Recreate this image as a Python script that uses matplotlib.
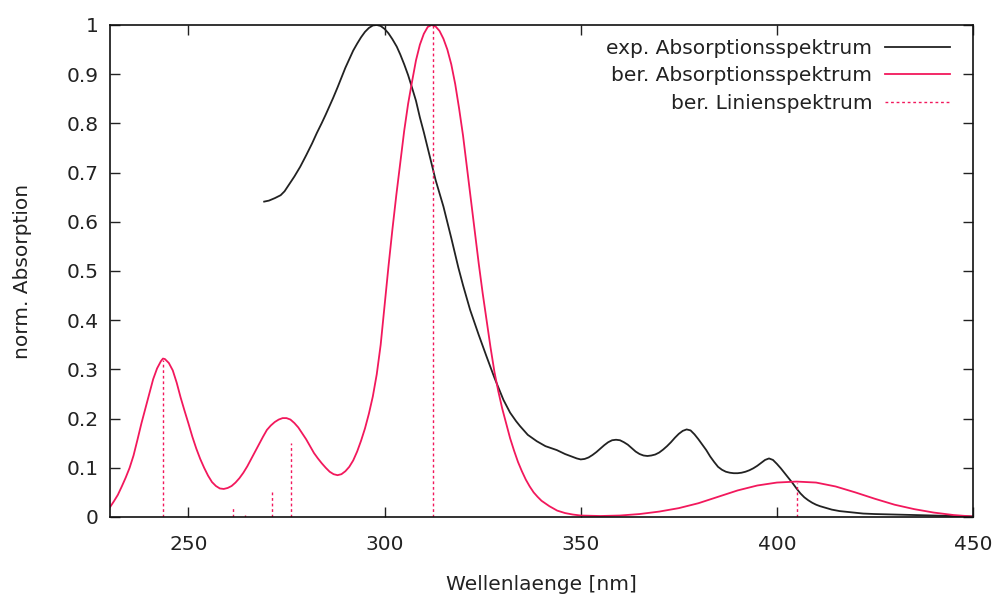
import matplotlib
matplotlib.use("Agg")
import matplotlib.pyplot as plt
from matplotlib.ticker import FuncFormatter

exp_x = [269.3, 270.5, 272, 273.5, 274.5, 275.5, 277, 278.5, 280, 281.5, 282.7, 284, 285, 286.9,
         288, 289, 290, 291.2, 292, 293, 294, 295, 296, 297, 298, 299, 300, 301, 302, 303.1,
         304, 305, 306, 306.9, 308, 309, 310, 311.6, 313, 315, 317, 318.8, 320, 321.8, 324, 326,
         328, 330.3, 332, 333.5, 334.5, 336.5, 338.8, 341, 343.9, 346, 348, 349, 350, 351, 352,
         353, 354, 355, 356, 357, 358, 359, 360, 361, 362, 363, 364, 365, 366, 367, 368, 369,
         370, 371, 372, 373, 374, 375, 376, 377, 378, 379, 380, 381, 382, 383, 384, 385, 386,
         387, 388, 389, 390, 391, 392, 393, 394, 395, 396, 397, 398, 399, 400, 401, 402, 403,
         404, 405, 406, 407, 408, 409, 410, 411, 412.7, 414, 416, 419.5, 422, 425, 429.7, 435,
         440, 445, 450]
exp_y = [0.641, 0.643, 0.648, 0.654, 0.662, 0.674, 0.692, 0.712, 0.735, 0.759, 0.78, 0.801, 0.818, 0.852,
         0.873, 0.893, 0.913, 0.934, 0.948, 0.962, 0.975, 0.986, 0.994, 0.999, 1.0, 0.998, 0.992, 0.983, 0.971, 0.956,
         0.94, 0.92, 0.898, 0.875, 0.846, 0.812, 0.782, 0.73, 0.685, 0.631, 0.567, 0.507, 0.471, 0.421, 0.37, 0.326,
         0.283, 0.238, 0.212, 0.195, 0.185, 0.167, 0.154, 0.144, 0.136, 0.128, 0.122, 0.119, 0.117, 0.118, 0.121,
         0.126, 0.132, 0.139, 0.146, 0.152, 0.156, 0.157, 0.156, 0.152, 0.147, 0.14, 0.133, 0.128, 0.125, 0.124, 0.125, 0.127,
         0.131, 0.137, 0.144, 0.152, 0.161, 0.169, 0.175, 0.178, 0.176, 0.168, 0.158, 0.147, 0.136, 0.123, 0.112, 0.102, 0.096,
         0.092, 0.09, 0.089, 0.089, 0.09, 0.092, 0.095, 0.099, 0.104, 0.11, 0.116, 0.119, 0.116, 0.108, 0.099, 0.089, 0.079,
         0.069, 0.058, 0.048, 0.04, 0.034, 0.029, 0.025, 0.022, 0.018, 0.015, 0.012, 0.009, 0.007, 0.006, 0.005, 0.004,
         0.003, 0.002, 0.001]

# calculated absorption spectrum
calc_x = [230, 231, 232, 233, 234, 235, 236, 237, 238, 239, 240, 241, 242, 243, 243.5, 244, 245, 246,
          247, 248, 249, 250, 251, 252, 253, 254, 255, 256, 257, 258, 259, 260, 261, 262, 263, 264,
          265, 266, 267, 268, 269, 270, 271, 272, 273, 274, 275, 276, 277, 278, 279, 280, 281, 282,
          283, 284, 285, 286, 287, 288, 289, 290, 291, 292, 293, 294, 295, 296, 297, 298, 299, 300,
          301, 302, 303, 304, 305, 306, 307, 308, 309, 310, 311, 312, 313, 314, 315, 316, 317, 318,
          319, 320, 321, 322, 323, 324, 325, 326, 327, 328, 329, 330, 331, 332, 333, 334, 335, 336,
          337, 338, 339, 340, 342, 344, 346, 348, 350, 355, 360, 365, 370, 375, 380, 385, 390, 395,
          400, 405, 410, 415, 420, 425, 430, 435, 440, 445, 450]
calc_y = [0.02, 0.032, 0.045, 0.062, 0.08, 0.1, 0.125, 0.157, 0.19, 0.22, 0.25, 0.28, 0.302, 0.317, 0.322,
          0.321, 0.313, 0.298, 0.273, 0.243, 0.216, 0.19, 0.163, 0.139, 0.118, 0.1, 0.084, 0.071, 0.063, 0.058,
          0.057, 0.059, 0.063, 0.07, 0.079, 0.09, 0.103, 0.118, 0.133, 0.148, 0.163, 0.177, 0.186, 0.193, 0.198,
          0.201, 0.201, 0.198, 0.191, 0.182, 0.17, 0.158, 0.144, 0.13, 0.119, 0.109, 0.1, 0.092, 0.087, 0.085,
          0.087, 0.093, 0.102, 0.115, 0.133, 0.155, 0.18, 0.21, 0.245, 0.29, 0.35, 0.43, 0.51, 0.585, 0.655,
          0.72, 0.785, 0.84, 0.885, 0.928, 0.96, 0.982, 0.996, 1.0, 0.997, 0.988, 0.972, 0.95, 0.92, 0.88,
          0.83, 0.775, 0.71, 0.645, 0.58, 0.515, 0.455, 0.4, 0.345, 0.295, 0.255, 0.22, 0.19, 0.16, 0.135,
          0.112, 0.093, 0.076, 0.062, 0.05, 0.041, 0.033, 0.022, 0.013, 0.008, 0.005, 0.003, 0.002, 0.003,
          0.006, 0.011, 0.018, 0.028, 0.041, 0.054, 0.064, 0.070, 0.072, 0.070, 0.062, 0.05, 0.037, 0.025,
          0.016, 0.009, 0.004, 0.001]

# calculated line spectrum
line_x = [243.4, 261.3, 264.5, 271.4, 276.2, 312.4, 405.1]
line_y = [0.32, 0.023, 0.004, 0.053, 0.15, 1.0, 0.069]

x_ticks = [250, 300, 350, 400, 450]
y_ticks = [0, 0.1, 0.2, 0.3, 0.4, 0.5, 0.6, 0.7, 0.8, 0.9, 1.0]

RED = "#f2185c"
BLACK = "#222222"
FS = 14.5

plt.rcParams["font.family"] = ["DejaVu Sans"]
fig = plt.figure(figsize=(10, 5.99), dpi=100)
ax = fig.add_axes([0.11, 0.1369, 0.863, 0.8214])

ax.plot(exp_x, exp_y, color=BLACK, lw=1.3, label="exp. Absorptionsspektrum")
ax.plot(calc_x, calc_y, color=RED, lw=1.3, label="ber. Absorptionsspektrum")
ax.vlines(line_x, 0, line_y, colors=RED, lw=1.0, linestyles=(0, (2, 2)),
          label="ber. Linienspektrum")

ax.set_xlim(230, 450)
ax.set_ylim(0, 1)
ax.set_xticks(x_ticks)
ax.set_yticks(y_ticks)
ax.yaxis.set_major_formatter(FuncFormatter(lambda v, p: f"{v:g}"))
ax.tick_params(direction="in", top=True, right=True, length=7, width=1.0,
               labelsize=FS, colors="#222222")
ax.tick_params(axis="x", pad=13)
ax.tick_params(axis="y", pad=8)
for s in ax.spines.values():
    s.set_linewidth(1.2)
    s.set_color("#111111")

ax.set_xlabel("Wellenlaenge [nm]", fontsize=FS, color="#222222", labelpad=15)
ax.set_ylabel("norm. Absorption", fontsize=FS, color="#222222", labelpad=25)

leg = ax.legend(loc="upper right", bbox_to_anchor=(0.973, 0.972), frameon=False,
                markerfirst=False, fontsize=FS, handlelength=3.2, handletextpad=0.65,
                labelspacing=0.42, borderpad=0, borderaxespad=0)
for t in leg.get_texts():
    t.set_color("#222222")

fig.savefig("out.png", dpi=100)
